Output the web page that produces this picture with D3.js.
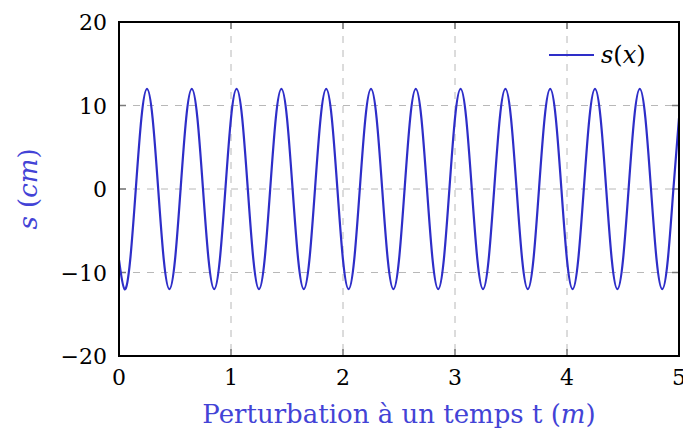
<!DOCTYPE html>
<html>
<head>
<meta charset="utf-8">
<script src="https://cdn.jsdelivr.net/npm/d3@7"></script>
<style>
  html, body { margin: 0; padding: 0; background: #fff; }
  svg { display: block; }
</style>
</head>
<body>
<svg id="chart" width="683" height="434"></svg>
<script>
const xValues = [
  0, 0.05, 0.1, 0.15, 0.2, 0.25, 0.3, 0.35, 0.4, 0.45, 0.5, 0.55, 0.6, 0.65, 0.7, 0.75,
  0.8, 0.85, 0.9, 0.95, 1, 1.05, 1.1, 1.15, 1.2, 1.25, 1.3, 1.35, 1.4, 1.45, 1.5, 1.55,
  1.6, 1.65, 1.7, 1.75, 1.8, 1.85, 1.9, 1.95, 2, 2.05, 2.1, 2.15, 2.2, 2.25, 2.3, 2.35,
  2.4, 2.45, 2.5, 2.55, 2.6, 2.65, 2.7, 2.75, 2.8, 2.85, 2.9, 2.95, 3, 3.05, 3.1, 3.15,
  3.2, 3.25, 3.3, 3.35, 3.4, 3.45, 3.5, 3.55, 3.6, 3.65, 3.7, 3.75, 3.8, 3.85, 3.9, 3.95,
  4, 4.05, 4.1, 4.15, 4.2, 4.25, 4.3, 4.35, 4.4, 4.45, 4.5, 4.55, 4.6, 4.65, 4.7, 4.75,
  4.8, 4.85, 4.9, 4.95, 5];
const sValues = [
  -8.5, -12, -8.5, 0, 8.5, 12, 8.5, 0,  -8.5, -12, -8.5, 0, 8.5, 12, 8.5, 0,
  -8.5, -12, -8.5, 0, 8.5, 12, 8.5, 0,  -8.5, -12, -8.5, 0, 8.5, 12, 8.5, 0,
  -8.5, -12, -8.5, 0, 8.5, 12, 8.5, 0,  -8.5, -12, -8.5, 0, 8.5, 12, 8.5, 0,
  -8.5, -12, -8.5, 0, 8.5, 12, 8.5, 0,  -8.5, -12, -8.5, 0, 8.5, 12, 8.5, 0,
  -8.5, -12, -8.5, 0, 8.5, 12, 8.5, 0,  -8.5, -12, -8.5, 0, 8.5, 12, 8.5, 0,
  -8.5, -12, -8.5, 0, 8.5, 12, 8.5, 0,  -8.5, -12, -8.5, 0, 8.5, 12, 8.5, 0,
  -8.5, -12, -8.5, 0, 8.5];
const xTicks = [0, 1, 2, 3, 4, 5];
const yTicks = [-20, -10, 0, 10, 20];
const xGrid = [1, 2, 3, 4];
const yGrid = [-10, 0, 10];
const seriesName = "s(x)";

(function () {
const FONT = "'DejaVu Serif', serif";
const svg = d3.select("#chart").attr("font-family", FONT);
const pL = 119, pR = 679, pT = 22, pB = 356;
const x = d3.scaleLinear().domain([0, 5]).range([pL, pR]);
const y = d3.scaleLinear().domain([-20, 20]).range([pB, pT]);

const blue = "#2e2ec8";
const labelBlue = "#4343d6";
const gridColor = "#b8b8b8";
const tickColor = "#7a7a7a";
const tickLen = 7;

// grid
svg.append("g").selectAll("line").data(xGrid).join("line")
  .attr("x1", d => x(d)).attr("x2", d => x(d))
  .attr("y1", pT).attr("y2", pB)
  .attr("stroke", gridColor).attr("stroke-width", 1).attr("stroke-dasharray", "7,7");
svg.append("g").selectAll("line").data(yGrid).join("line")
  .attr("x1", pL).attr("x2", pR)
  .attr("y1", d => y(d)).attr("y2", d => y(d))
  .attr("stroke", gridColor).attr("stroke-width", 1).attr("stroke-dasharray", "7,7");

// inward ticks on all sides
const tg = svg.append("g").attr("stroke", tickColor).attr("stroke-width", 1.5);
xGrid.forEach(v => {
  tg.append("line").attr("x1", x(v)).attr("x2", x(v)).attr("y1", pB).attr("y2", pB - tickLen);
  tg.append("line").attr("x1", x(v)).attr("x2", x(v)).attr("y1", pT).attr("y2", pT + tickLen);
});
yGrid.forEach(v => {
  tg.append("line").attr("y1", y(v)).attr("y2", y(v)).attr("x1", pL).attr("x2", pL + tickLen);
  tg.append("line").attr("y1", y(v)).attr("y2", y(v)).attr("x1", pR).attr("x2", pR - tickLen);
});

// clip
svg.append("clipPath").attr("id", "clip").append("rect")
  .attr("x", pL).attr("y", pT).attr("width", pR - pL).attr("height", pB - pT);

// curve
const pts = xValues.map((v, i) => [v, sValues[i]]);
const line = d3.line().x(d => x(d[0])).y(d => y(d[1])).curve(d3.curveNatural);
svg.append("path").datum(pts)
  .attr("d", line)
  .attr("clip-path", "url(#clip)")
  .attr("fill", "none").attr("stroke", blue).attr("stroke-width", 2.2);

// frame
svg.append("rect").attr("x", pL).attr("y", pT)
  .attr("width", pR - pL).attr("height", pB - pT)
  .attr("fill", "none").attr("stroke", "#000").attr("stroke-width", 2);

// tick labels
const fmt = d => (d < 0 ? "\u2212" + Math.abs(d) : String(d));
svg.append("g").selectAll("text").data(xTicks).join("text")
  .attr("x", d => x(d)).attr("y", 385)
  .attr("text-anchor", "middle").attr("font-size", 22).attr("fill", "#000")
  .text(fmt);
svg.append("g").selectAll("text").data(yTicks).join("text")
  .attr("x", 107).attr("y", d => y(d) + 8)
  .attr("text-anchor", "end").attr("font-size", 22).attr("fill", "#000")
  .text(fmt);

// axis labels
const xl = svg.append("text").attr("x", (pL + pR) / 2).attr("y", 423)
  .attr("text-anchor", "middle").attr("font-size", 26).attr("fill", labelBlue);
xl.append("tspan").text("Perturbation à un temps t (");
xl.append("tspan").attr("font-style", "italic").text("m");
xl.append("tspan").text(")");

const yl = svg.append("text")
  .attr("transform", `translate(37,${(pT + pB) / 2}) rotate(-90)`)
  .attr("text-anchor", "middle").attr("font-size", 26).attr("fill", labelBlue);
yl.append("tspan").attr("font-style", "italic").text("s");
yl.append("tspan").text(" (");
yl.append("tspan").attr("font-style", "italic").text("cm");
yl.append("tspan").text(")");

// legend
svg.append("line").attr("x1", 549).attr("x2", 594).attr("y1", 55).attr("y2", 55)
  .attr("stroke", blue).attr("stroke-width", 2.2);
const lt = svg.append("text").attr("x", 601).attr("y", 63).attr("font-size", 24).attr("fill", "#000");
lt.append("tspan").attr("font-style", "italic").text("s");
lt.append("tspan").text("(");
lt.append("tspan").attr("font-style", "italic").text("x");
lt.append("tspan").text(")");
})();
</script>
</body>
</html>
